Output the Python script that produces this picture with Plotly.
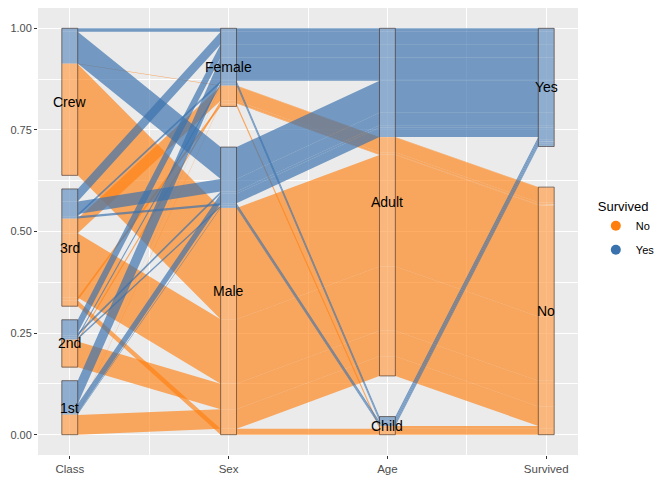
import plotly.graph_objects as go

# axes of the parallel sets plot, left to right
axis_names = ["Class", "Sex", "Age", "Survived"]
class_levels = ["1st", "2nd", "3rd", "Crew"]
sex_levels = ["Male", "Female"]
age_levels = ["Child", "Adult"]
survived_levels = ["No", "Yes"]

# passenger counts, one value per class (1st, 2nd, 3rd, Crew)
no_child_male = [0, 0, 35, 0]
no_child_female = [0, 0, 17, 0]
no_adult_male = [118, 154, 387, 670]
no_adult_female = [4, 13, 89, 3]
yes_child_male = [5, 11, 13, 0]
yes_child_female = [1, 13, 14, 0]
yes_adult_male = [57, 14, 75, 192]
yes_adult_female = [140, 80, 76, 20]

colours = {"No": "#FF7F0E", "Yes": "#3A72AE"}
fills = {"No": "rgba(255,127,14,0.64)", "Yes": "rgba(58,114,174,0.68)"}

levels = {"Class": class_levels, "Sex": sex_levels,
          "Age": age_levels, "Survived": survived_levels}

# rows in table order: Class fastest, then Sex, Age, Survived
groups = [
    ("No", "Child", "Male", no_child_male),
    ("No", "Child", "Female", no_child_female),
    ("No", "Adult", "Male", no_adult_male),
    ("No", "Adult", "Female", no_adult_female),
    ("Yes", "Child", "Male", yes_child_male),
    ("Yes", "Child", "Female", yes_child_female),
    ("Yes", "Adult", "Male", yes_adult_male),
    ("Yes", "Adult", "Female", yes_adult_female),
]
rows = []
for surv, age, sex, counts in groups:
    for cls, n in zip(class_levels, counts):
        if n > 0:
            rows.append({"Class": cls, "Sex": sex, "Age": age,
                         "Survived": surv, "n": n})

total = sum(r["n"] for r in rows)
space = 0.1
half = 0.05  # half width of the boxes

# stack rows inside each level, ties keep table order
pos = {}
bounds = {}
for v in axis_names:
    lv = levels[v]
    gap = space / (len(lv) - 1)
    start = 0.0
    for lev in lv:
        y = start
        for i, r in enumerate(rows):
            if r[v] == lev:
                h = r["n"] / total * (1 - space)
                pos[(v, i)] = (y, y + h)
                y += h
        bounds[(v, lev)] = (start, y)
        start = y + gap

fig = go.Figure()

for i, r in enumerate(rows):
    xs_top, ys_top, xs_bot, ys_bot = [], [], [], []
    for k, v in enumerate(axis_names):
        lo, hi = pos[(v, i)]
        xs_top += [k + 1 - half, k + 1 + half]
        ys_top += [hi, hi]
        xs_bot += [k + 1 - half, k + 1 + half]
        ys_bot += [lo, lo]
    fig.add_trace(go.Scatter(
        x=xs_top + xs_bot[::-1] + [xs_top[0]],
        y=ys_top + ys_bot[::-1] + [ys_top[0]],
        mode="lines", fill="toself", fillcolor=fills[r["Survived"]],
        line=dict(width=0), hoverinfo="skip", showlegend=False))

# legend entries
for s in survived_levels:
    fig.add_trace(go.Scatter(
        x=[None], y=[None], mode="markers", name=s, legendgroup=s,
        marker=dict(color=colours[s], size=10)))

shapes = []
annotations = []
for k, v in enumerate(axis_names):
    for lev in levels[v]:
        lo, hi = bounds[(v, lev)]
        shapes.append(dict(
            type="rect", xref="x", yref="y",
            x0=k + 1 - half, x1=k + 1 + half, y0=lo, y1=hi,
            fillcolor="rgba(255,255,255,0.2)",
            line=dict(color="rgba(60,40,30,0.6)", width=1), layer="above"))
        annotations.append(dict(
            x=k + 1, y=(lo + hi) / 2, text=lev, showarrow=False,
            font=dict(size=14, color="black")))

# page body adds 8px on the left and top, so the figure is a bit smaller
fig.update_layout(
    width=664, height=472,
    margin=dict(l=30, r=94, t=0, b=25),
    paper_bgcolor="white", plot_bgcolor="#EBEBEB",
    font=dict(family="Liberation Sans, Arial, sans-serif"),
    shapes=shapes, annotations=annotations,
    legend=dict(title=dict(text="Survived", font=dict(size=13, color="black")),
                font=dict(size=11, color="black"),
                x=1.033, xanchor="left", y=0.505, yanchor="middle",
                tracegroupgap=5, bgcolor="rgba(0,0,0,0)"),
)
fig.update_xaxes(
    range=[0.8, 4.2], tickmode="array", tickvals=[1, 2, 3, 4],
    ticktext=axis_names, showgrid=True, gridcolor="white", gridwidth=1.1,
    zeroline=False, ticks="outside", ticklen=3, tickcolor="#333333",
    tickfont=dict(size=11.5, color="#4D4D4D"),
    minor=dict(tick0=0.5, dtick=1, showgrid=True, gridcolor="white",
               gridwidth=0.5, ticks=""))
fig.update_yaxes(
    range=[-0.05, 1.05], tickmode="array",
    tickvals=[0, 0.25, 0.5, 0.75, 1],
    ticktext=["0.00", "0.25", "0.50", "0.75", "1.00"],
    showgrid=True, gridcolor="white", gridwidth=1.1, zeroline=False,
    ticks="outside", ticklen=3, tickcolor="#333333",
    tickfont=dict(size=11, color="#4D4D4D"),
    minor=dict(tick0=0.125, dtick=0.25, showgrid=True, gridcolor="white",
               gridwidth=0.5, ticks=""))

fig.write_html("out.html")
